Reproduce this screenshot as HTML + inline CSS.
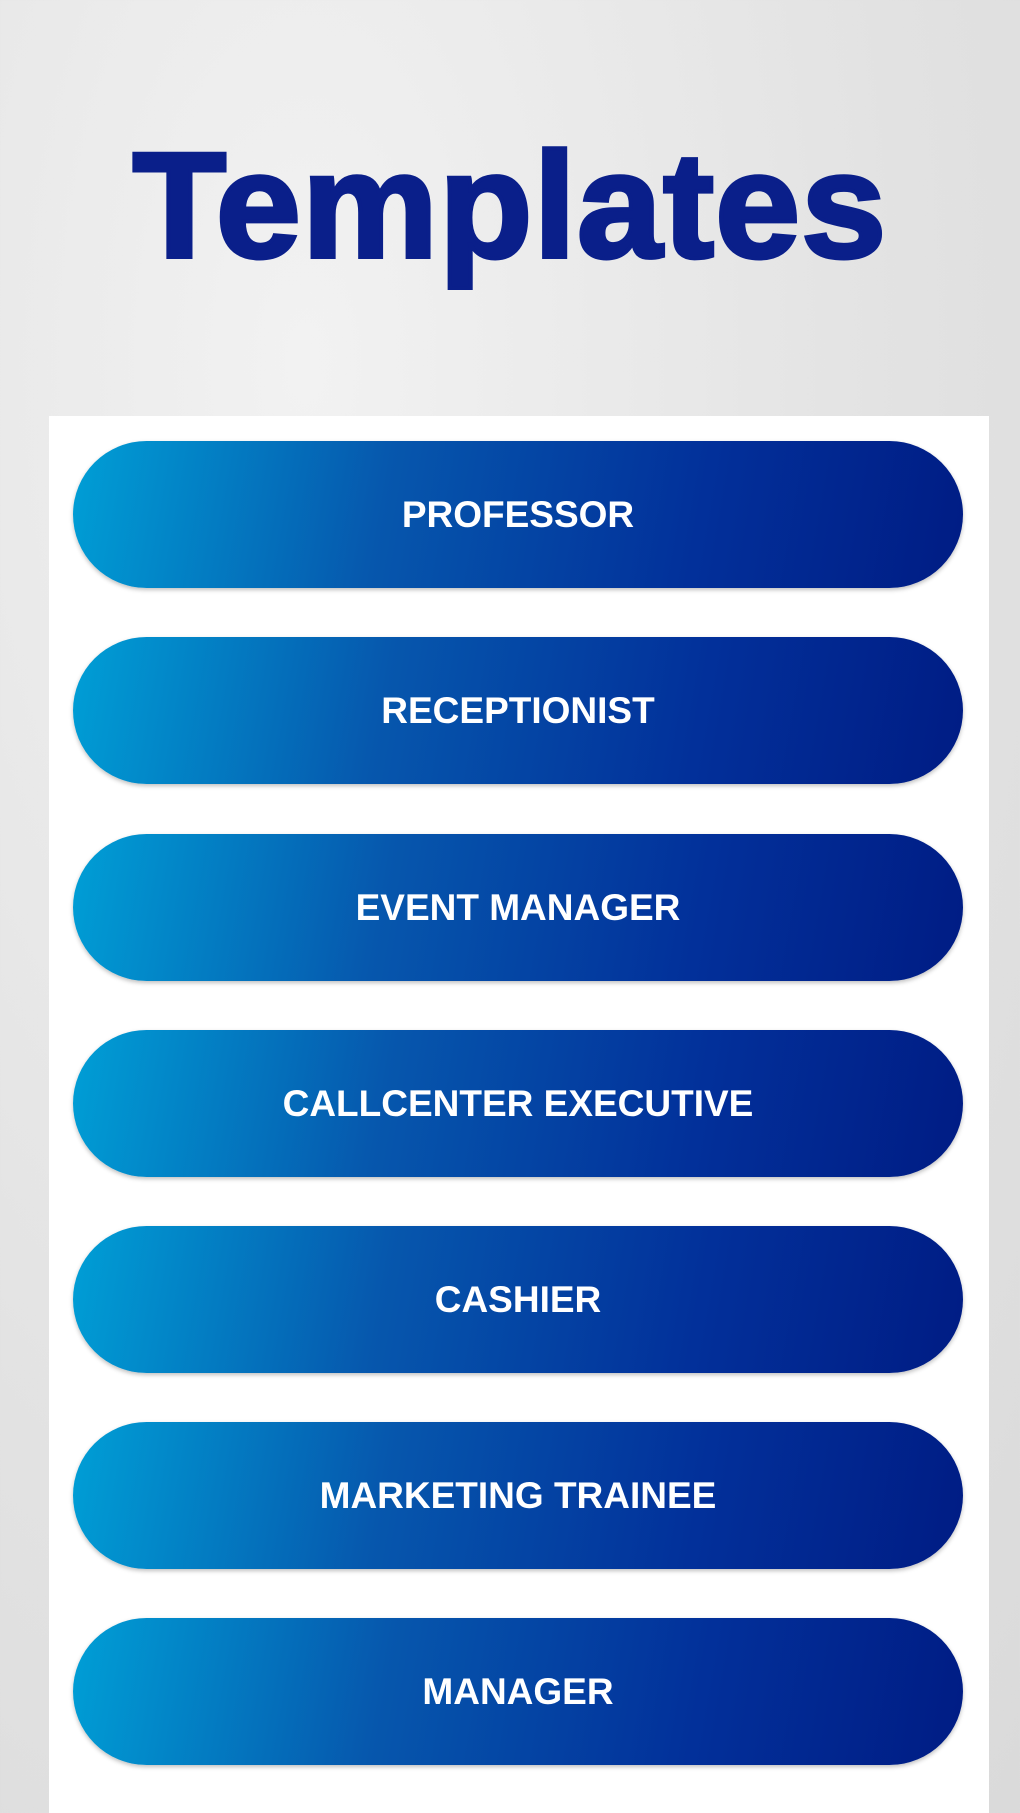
<!DOCTYPE html>
<html><head><meta charset="utf-8"><style>
html,body{margin:0;padding:0;overflow:hidden}
body{width:1020px;height:1813px;position:relative;overflow:hidden;
background:radial-gradient(ellipse at 30% 20%,#f2f2f2,#e2e2e2 60%,#dadada);
font-family:"Liberation Sans",sans-serif}
.title{position:absolute;left:0;width:1020px;top:130px;text-align:center;
font-size:150px;font-weight:bold;color:#0a1f8a;letter-spacing:1px;line-height:1;
transform:scaleX(1.02);-webkit-text-stroke:4px #0a1f8a}
.panel{position:absolute;left:49px;top:416px;width:940px;height:1397px;background:#fff}
.btn{position:absolute;left:73px;width:890px;height:147px;border-radius:74px;
background:linear-gradient(100deg,#009fd6 0%,#0657ad 35%,#02309a 70%,#001c84 100%);
box-shadow:0 2px 4px rgba(0,0,0,.25);color:#fff;font-size:37px;font-weight:bold;
display:flex;align-items:center;justify-content:center;letter-spacing:0}
</style></head><body>
<div class="title">Templates</div>
<div class="panel"></div>
<div class="btn" style="top:441px">PROFESSOR</div>
<div class="btn" style="top:637px">RECEPTIONIST</div>
<div class="btn" style="top:834px">EVENT MANAGER</div>
<div class="btn" style="top:1030px">CALLCENTER EXECUTIVE</div>
<div class="btn" style="top:1226px">CASHIER</div>
<div class="btn" style="top:1422px">MARKETING TRAINEE</div>
<div class="btn" style="top:1618px">MANAGER</div>
</body></html>
